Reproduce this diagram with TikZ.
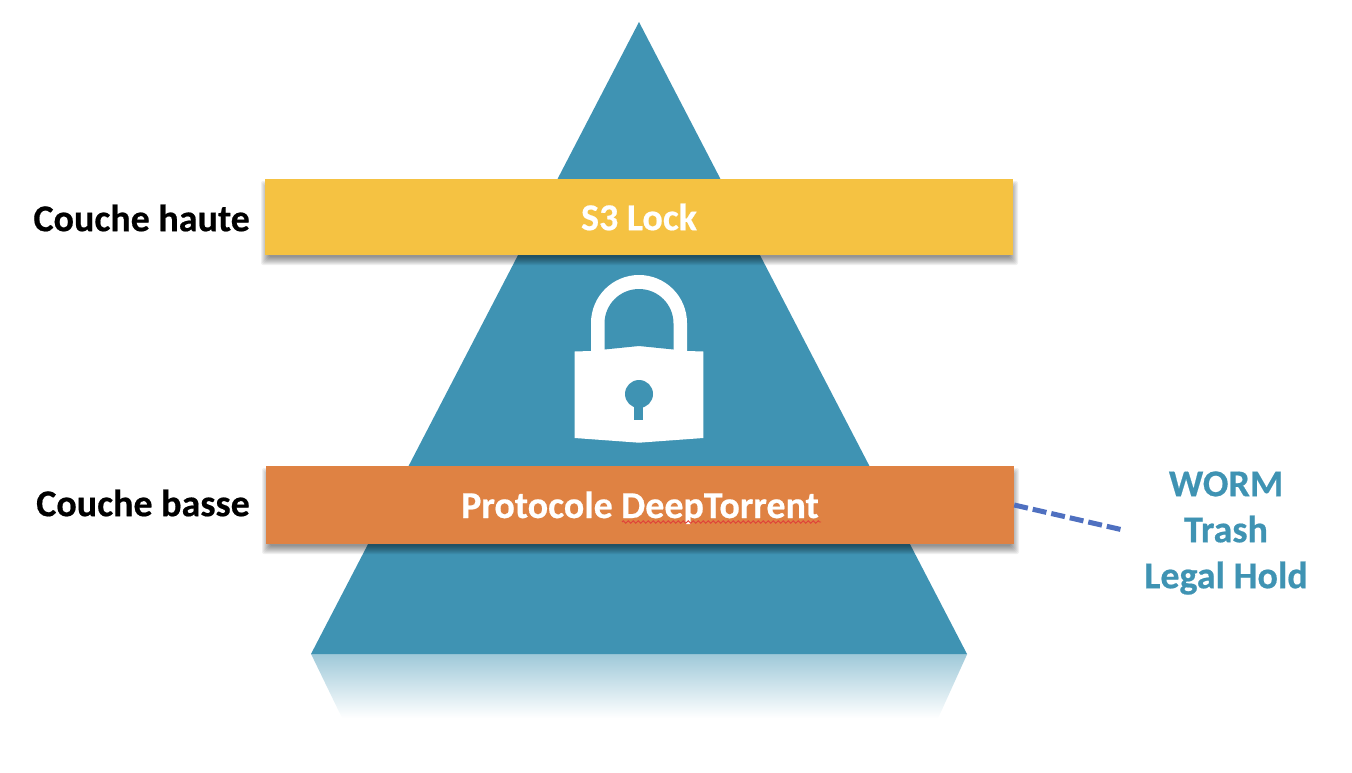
\documentclass[tikz,border=0pt]{standalone}
\usepackage{fontspec}
\setmainfont[BoldFeatures={FakeBold=0.5}]{Carlito}
\usetikzlibrary{fadings,decorations.pathmorphing,calc}
\definecolor{pyr}{HTML}{3F93B3}
\definecolor{yel}{HTML}{F5C242}
\definecolor{ora}{HTML}{DF8243}
\definecolor{dashcol}{HTML}{4F70C0}
\definecolor{squig}{HTML}{E0403A}
\tikzset{
  x=1pt,y=-1pt,
  bar/.style={inner sep=0pt,minimum width=748pt,minimum height=#1,text=white,font=\fontsize{38}{44}\selectfont\bfseries},
  sidelabel/.style={inner sep=0pt,font=\fontsize{38}{44}\selectfont\bfseries,text=black,anchor=east},
  taglabel/.style={inner sep=0pt,font=\fontsize{38}{46}\selectfont\bfseries,text=pyr,align=center},
  shadowlayer/.style={fill=black,fill opacity=0.06,draw=none,rounded corners=2pt}
}
\begin{document}
\begin{tikzpicture}
\useasboundingbox (0,0) rectangle (1352,773);
% reflection
\fill[pyr,fill opacity=0.5,path fading=south] (311,654) -- (967,654) -- (938,718) -- (342,718) -- cycle;
% pyramid
\fill[pyr] (639,22) -- (967,654) -- (311,654) -- cycle;
% shadows
\foreach \d in {0,1,...,8}{
  \fill[shadowlayer] ($(261,181)+(\d,\d)$) rectangle ($(1018,265)+(-\d,-\d)$);
  \fill[shadowlayer] ($(262,468)+(\d,\d)$) rectangle ($(1019,554)+(-\d,-\d)$);
}
% bars
\node[bar=76pt,fill=yel] (top) at (639,217) {S3 Lock};
\node[bar=78pt,fill=ora] (low) at (640,505) {\raisebox{-13pt}[0pt][0pt]{Protocole DeepTorrent}};
% squiggle
\draw[squig,line width=0.9pt,decorate,decoration={zigzag,amplitude=1.2pt,segment length=5pt}] (622,522) -- (821,522);
% lock
\fill[white]
  (591,351) -- (591,323) arc[start angle=180,end angle=360,radius=48] -- (687,351) -- (703.3,351.5) -- (703.3,438) -- (639,442.7) -- (574.7,438) -- (574.7,351.5) -- cycle;
\fill[pyr] (604.5,349.5) -- (604.5,323.5) arc[start angle=180,end angle=360,radius=34.5] -- (673.5,349.5) -- (639,346) -- cycle;
\fill[pyr] (639,394) circle[radius=14];
\fill[pyr] (634.3,400) rectangle (643.3,420);
% labels
\node[sidelabel] (haute) at (250,218) {Couche haute};
\node[sidelabel] (basse) at (250,503) {Couche basse};
\node[taglabel] (tags) at (1226,533) {WORM\\Trash\\Legal Hold};
% connector
\coordinate (dashend) at (1123,530);
\draw[dashcol,line width=5pt,dash pattern=on 14pt off 5pt] (low.east |- 0,505) -- (dashend);
\end{tikzpicture}
\end{document}
